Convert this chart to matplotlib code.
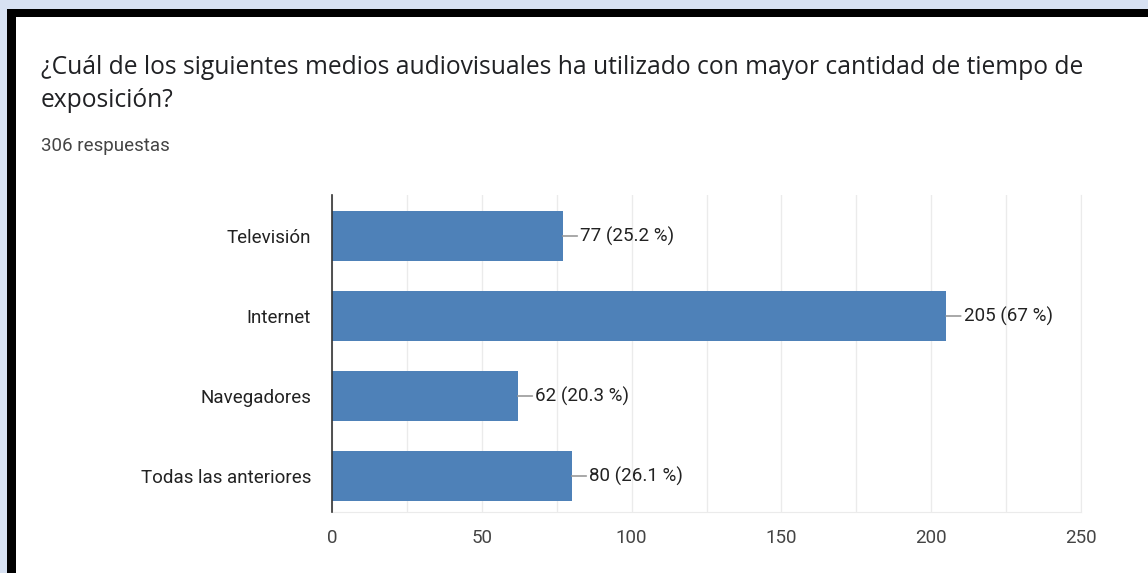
import matplotlib
matplotlib.use("Agg")
import matplotlib.pyplot as plt
from matplotlib.patches import Rectangle

categories = ["Televisión", "Internet", "Navegadores", "Todas las anteriores"]
counts = [77, 205, 62, 80]
labels = ["77 (25.2 %)", "205 (67 %)", "62 (20.3 %)", "80 (26.1 %)"]
x_ticks = [0, 50, 100, 150, 200, 250]
title_line1 = "¿Cuál de los siguientes medios audiovisuales ha utilizado con mayor cantidad de tiempo de"
title_line2 = "exposición?"
subtitle = "306 respuestas"

W, H = 1148, 573
fig = plt.figure(figsize=(W / 100, H / 100), dpi=100)
fig.patch.set_facecolor("#d7e1f2")

def px_rect(x0, y0, x1, y1, color):
    fig.patches.append(Rectangle((x0 / W, 1 - y1 / H), (x1 - x0) / W, (y1 - y0) / H,
                                 transform=fig.transFigure, facecolor=color,
                                 edgecolor="none", zorder=-10))

px_rect(7, 9, W, H, "#000000")
px_rect(16, 17, W, H, "#ffffff")

fig.text(41 / W, 1 - 74 / H, title_line1, fontsize=17.7, family="Open Sans",
         color="#202124", va="baseline", ha="left")
fig.text(41 / W, 1 - 107 / H, title_line2, fontsize=17.7, family="Open Sans",
         color="#202124", va="baseline", ha="left")
fig.text(41 / W, 1 - 151 / H, subtitle, fontsize=13.5, family="Roboto",
         color="#444444", va="baseline", ha="left")

ax = fig.add_axes([332 / W, 1 - 512 / H, (1081 - 332) / W, (512 - 195) / H])
ax.set_facecolor("white")
ypos = list(range(len(categories)))
ax.barh(ypos, counts, height=0.625, color="#4e81b8", zorder=3)
ax.set_xlim(0, 250)
ax.set_ylim(3.45, -0.5125)
ax.set_yticks(ypos)
ax.set_yticklabels(categories, family="Roboto", fontsize=13.5, color="#222222")
ax.set_xticks(x_ticks)
ax.set_xticklabels([str(t) for t in x_ticks], family="Roboto", fontsize=13.5, color="#444444")
ax.set_xticks(range(0, 251, 25), minor=True)
ax.tick_params(axis="both", which="both", length=0)
ax.tick_params(axis="x", pad=12)
ax.tick_params(axis="y", pad=15)
ax.grid(axis="x", which="both", color="#ebebeb", lw=1, zorder=0)
ax.spines["top"].set_visible(False)
ax.spines["right"].set_color("#ebebeb")
ax.spines["bottom"].set_color("#ebebeb")
ax.spines["left"].set_color("#333333")
ax.spines["left"].set_linewidth(1.2)
ax.spines["left"].set_zorder(5)

for y, v, lab in zip(ypos, counts, labels):
    ax.annotate(lab, xy=(v, y), xytext=(12.5, 0), textcoords="offset points",
                va="center", ha="left", family="Roboto", fontsize=13.5, color="#222222",
                arrowprops=dict(arrowstyle="-", color="#999999", lw=1.2,
                                shrinkA=0, shrinkB=0))

fig.savefig("out.png", dpi=100, facecolor=fig.get_facecolor())
